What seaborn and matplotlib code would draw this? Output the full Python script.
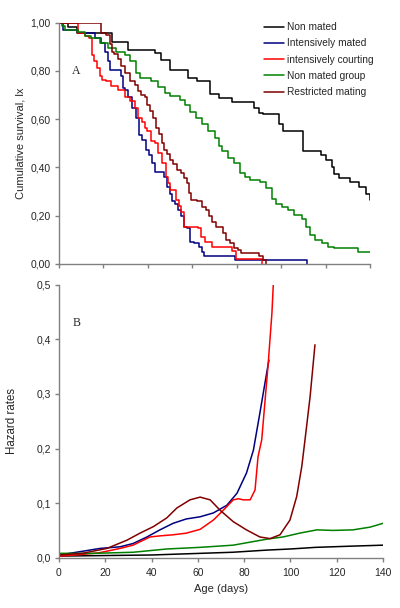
import pandas as pd
import seaborn as sns
import matplotlib.pyplot as plt
from matplotlib.ticker import FuncFormatter, MultipleLocator

# Survival (lx) step curves: age at which the curve drops, new value
nm_age = [0, 4, 8, 24, 31, 43, 46, 50, 58, 62, 68, 72, 78, 88, 90, 92, 99, 101,
          110, 118, 120, 123, 124, 126, 131, 135, 138, 140]
nm_lx = [1.0, 0.98, 0.957, 0.92, 0.888, 0.875, 0.847, 0.805, 0.77, 0.757, 0.705,
         0.687, 0.67, 0.645, 0.625, 0.62, 0.58, 0.552, 0.47, 0.45, 0.43, 0.40,
         0.373, 0.355, 0.341, 0.32, 0.29, 0.265]

im_age = [0, 1.8, 8.6, 16.2, 19, 20.7, 22, 23, 28, 28.8, 29.7, 31, 32.9, 34.7,
          36, 37.4, 39.2, 40.5, 41.9, 43.2, 47.3, 48.6, 50, 50.9, 52.2, 53.6, 55,
          56.3, 57.6, 59, 60.8, 63, 64.4, 65.3, 79.2, 111.6]
im_lx = [1.0, 0.97, 0.957, 0.935, 0.915, 0.88, 0.84, 0.805, 0.78, 0.73, 0.72,
         0.69, 0.646, 0.605, 0.535, 0.514, 0.472, 0.45, 0.42, 0.382, 0.36, 0.32,
         0.29, 0.26, 0.25, 0.224, 0.2, 0.155, 0.15, 0.09, 0.087, 0.07, 0.05,
         0.033, 0.017, 0.0]

ic_age = [0, 8.6, 11.7, 13.5, 14.9, 15.8, 17.1, 18.5, 19.4, 21.2, 23.4, 26.6,
          29.7, 32, 34.2, 35.6, 37.4, 38.7, 39.6, 41.4, 43.2, 44.6, 46.4, 48.2,
          49, 50, 52.7, 54, 55, 56.3, 62.6, 63.9, 65.7, 68.9, 77.9, 79.7, 91.4]
ic_lx = [1.0, 0.957, 0.944, 0.935, 0.865, 0.84, 0.81, 0.78, 0.764, 0.757, 0.737,
         0.72, 0.69, 0.675, 0.646, 0.605, 0.59, 0.565, 0.55, 0.51, 0.5, 0.46,
         0.42, 0.36, 0.336, 0.307, 0.265, 0.24, 0.216, 0.155, 0.15, 0.112, 0.09,
         0.07, 0.054, 0.02, 0.0]

ng_age = [0, 1.4, 2.7, 8.6, 11.7, 14.4, 18.5, 22, 25.7, 29.7, 32, 34.7, 36.5,
          41.4, 44.6, 47.7, 50, 54.5, 56.7, 59, 61.7, 64.4, 67, 70.2, 72, 73.4,
          76, 78.8, 81.5, 83.7, 86, 90.5, 93.2, 95.9, 97.7, 100.4, 103, 105.8,
          109.4, 111.2, 113, 115.3, 118.4, 121, 123.8, 134.6, 140]
ng_lx = [1.0, 0.985, 0.97, 0.96, 0.944, 0.935, 0.915, 0.895, 0.878, 0.867, 0.84,
         0.79, 0.77, 0.757, 0.735, 0.71, 0.695, 0.68, 0.66, 0.63, 0.605, 0.58,
         0.55, 0.52, 0.49, 0.47, 0.44, 0.42, 0.377, 0.36, 0.35, 0.34, 0.315,
         0.27, 0.25, 0.236, 0.224, 0.203, 0.185, 0.153, 0.12, 0.10, 0.085, 0.07,
         0.066, 0.051, 0.051]

rm_age = [0, 19, 21.2, 23, 23.9, 24.8, 26.6, 27.9, 29.7, 32, 34.2, 35.6, 36.9,
          38.7, 39.6, 41, 42.3, 43.7, 45, 46.4, 47.3, 48.6, 50, 51.3, 53.1, 55,
          56.3, 57.6, 58.5, 59.4, 62.1, 64.4, 66.2, 67.5, 68.9, 70.7, 73.8, 75.2,
          77, 78.8, 80.6, 81.9, 90, 91.8, 93.2]
rm_lx = [1.0, 0.957, 0.95, 0.91, 0.88, 0.87, 0.85, 0.82, 0.79, 0.757, 0.74, 0.717,
         0.70, 0.69, 0.66, 0.634, 0.605, 0.565, 0.54, 0.50, 0.472, 0.455, 0.43,
         0.415, 0.39, 0.375, 0.355, 0.336, 0.294, 0.265, 0.26, 0.236, 0.224, 0.2,
         0.174, 0.153, 0.128, 0.10, 0.087, 0.066, 0.058, 0.045, 0.033, 0.017, 0.0]

# Hazard rates (smooth curves)
nm_h_age = [0, 20, 40, 61, 75, 90, 100, 111, 125, 140]
nm_h = [0.003, 0.004, 0.005, 0.008, 0.010, 0.014, 0.016, 0.019, 0.021, 0.023]

im_h_age = [0, 9, 17.7, 26.4, 32, 38, 43.6, 49.3, 55, 61, 66.7, 72.5, 76.9, 81,
            84, 86.8, 89, 90.7]
im_h = [0.005, 0.011, 0.017, 0.020, 0.026, 0.038, 0.051, 0.063, 0.071, 0.075,
        0.082, 0.096, 0.118, 0.155, 0.197, 0.265, 0.32, 0.362]

ic_h_age = [0, 10, 17.3, 26.4, 32, 39.3, 43.6, 49.3, 55, 61, 66.7, 71, 75.3,
            77.5, 79.6, 82.6, 84.7, 86, 87.6, 90.4, 92, 92.6]
ic_h = [0.003, 0.006, 0.009, 0.017, 0.023, 0.038, 0.040, 0.042, 0.045, 0.052,
        0.069, 0.087, 0.106, 0.108, 0.106, 0.106, 0.124, 0.185, 0.216, 0.356,
        0.448, 0.5]

ng_h_age = [0, 15, 32, 46.6, 61, 75.3, 89.8, 96.8, 104, 111.4, 118.5, 127,
            134.4, 140]
ng_h = [0.008, 0.008, 0.010, 0.016, 0.019, 0.023, 0.034, 0.038, 0.045, 0.051,
        0.050, 0.051, 0.056, 0.063]

rm_h_age = [0, 10, 20.7, 29.3, 35, 40.8, 46.6, 50.9, 56.6, 61, 65.3, 69.6, 75.3,
            81, 86.8, 91.2, 95.5, 99.8, 102.7, 104.9, 106.3, 108.5, 110.6]
rm_h = [0.005, 0.008, 0.017, 0.032, 0.045, 0.057, 0.073, 0.091, 0.106, 0.111,
        0.106, 0.087, 0.066, 0.051, 0.038, 0.035, 0.042, 0.069, 0.112, 0.167,
        0.216, 0.295, 0.39]

groups = ['Non mated', 'Intensively mated', 'intensively courting',
          'Non mated group', 'Restricted mating']
colors = ['#000000', '#000080', '#ff0000', '#008000', '#800000']
surv = [(nm_age, nm_lx), (im_age, im_lx), (ic_age, ic_lx), (ng_age, ng_lx), (rm_age, rm_lx)]
haz = [(nm_h_age, nm_h), (im_h_age, im_h), (ic_h_age, ic_h), (ng_h_age, ng_h), (rm_h_age, rm_h)]

sns.set_style('ticks')
plt.rcParams['font.family'] = ['Liberation Sans', 'DejaVu Sans']
plt.rcParams['font.size'] = 7.5

fig = plt.figure(figsize=(4, 6.08), dpi=100)
ax1 = fig.add_axes([0.1475, 0.5658, 0.7775, 0.397])
ax2 = fig.add_axes([0.1475, 0.0827, 0.81, 0.449])

for name, col, (a, v) in zip(groups, colors, surv):
    df = pd.DataFrame({'age': a, 'val': v})
    sns.lineplot(data=df, x='age', y='val', ax=ax1, color=col, lw=1.1,
                 drawstyle='steps-post', estimator=None, sort=False, label=name)

for name, col, (a, v) in zip(groups, colors, haz):
    df = pd.DataFrame({'age': a, 'val': v})
    sns.lineplot(data=df, x='age', y='val', ax=ax2, color=col, lw=1.1,
                 estimator=None, sort=False, legend=False)

gray = '#808080'
for ax in (ax1, ax2):
    ax.set_xlim(0, 140)
    ax.xaxis.set_major_locator(MultipleLocator(20))
    for s in ('top', 'right'):
        ax.spines[s].set_visible(False)
    for s in ('left', 'bottom'):
        ax.spines[s].set_color(gray)
        ax.spines[s].set_linewidth(1)
    ax.tick_params(direction='out', length=3, width=1, color=gray, labelsize=7.5,
                   pad=3)
    ax.set_xlabel('')

ax1.set_ylim(0, 1)
ax1.yaxis.set_major_locator(MultipleLocator(0.2))
ax1.yaxis.set_major_formatter(FuncFormatter(lambda v, p: f'{v:.2f}'.replace('.', ',')))
ax1.tick_params(axis='x', labelbottom=False)
ax1.set_ylabel('Cumulative survival, lx', fontsize=8)
ax1.yaxis.set_label_coords(-0.109, 0.5)

ax2.set_ylim(0, 0.5)
ax2.yaxis.set_major_locator(MultipleLocator(0.1))
ax2.yaxis.set_major_formatter(FuncFormatter(lambda v, p: f'{v:.1f}'.replace('.', ',')))
ax2.tick_params(axis='x', pad=4.5)
ax2.set_ylabel('Hazard rates', fontsize=8.3)
ax2.yaxis.set_label_coords(-0.125, 0.5)
ax2.set_xlabel('Age (days)', fontsize=8)

ax1.text(6, 0.80, 'A', family='Liberation Serif', fontsize=8.5, va='center')
ax2.text(6, 0.43, 'B', family='Liberation Serif', fontsize=8.5, va='center')

ax1.legend(loc='upper left', bbox_to_anchor=(0.659, 1.002), frameon=False,
           fontsize=7.3, handlelength=2.0, handletextpad=0.3, labelspacing=0.62,
           borderpad=0, borderaxespad=0)

fig.savefig('out.png', dpi=100)
